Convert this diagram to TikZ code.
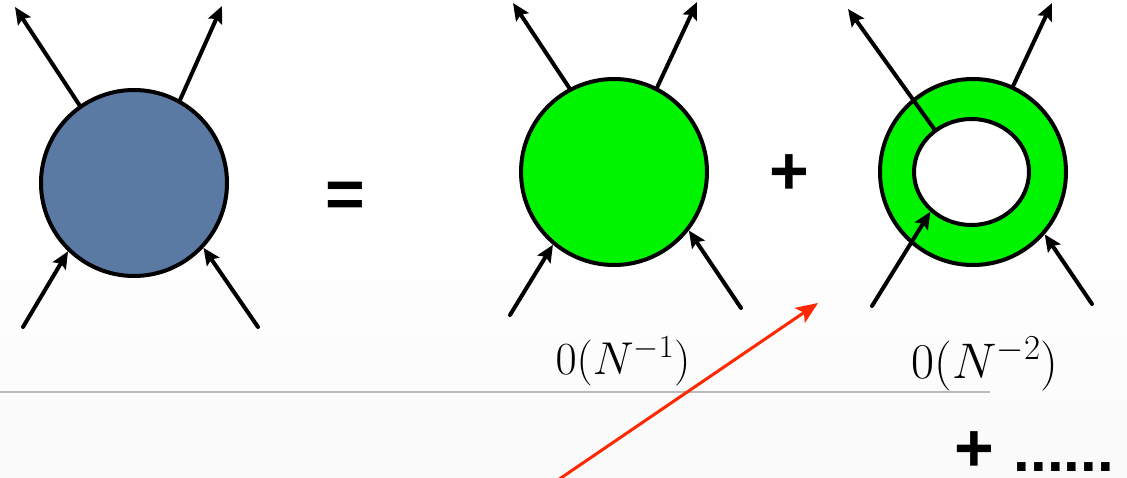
\RequirePackage{fix-cm}
\documentclass[tikz,border=0pt]{standalone}
\usepackage{amsmath}
\usepackage{fontspec}
\setsansfont{Liberation Sans}
\usetikzlibrary{arrows.meta,shapes.geometric}

\definecolor{blobblue}{RGB}{90,122,164}
\definecolor{blobgreen}{RGB}{0,244,0}
\definecolor{rulegray}{RGB}{186,186,186}
\definecolor{hintred}{RGB}{255,40,0}
\definecolor{bggray}{RGB}{250,250,250}

\begin{document}
\begin{tikzpicture}[
    x=1pt, y=-1pt,
    >={Stealth[length=17pt,width=15pt,inset=3pt]},
    line cap=round,
    line join=round,
    leg/.style={->, line width=4pt},
    blob/.style={circle, draw, line width=4pt, minimum size=186pt, inner sep=0pt},
    bigsym/.style={font=\sffamily\bfseries\fontsize{68}{70}\selectfont, inner sep=0pt, anchor=base},
    order/.style={font=\fontsize{46}{52}\selectfont, inner sep=0pt, anchor=base}
]

% -----------------------
% Background
% -----------------------
\fill[white] (0,0) rectangle (1127,478);
\shade[top color=white, bottom color=bggray] (0,200) rectangle (1127,478);
\useasboundingbox (0,0) rectangle (1127,478);

% -----------------------
% Coordinates
% -----------------------
\coordinate (bUL) at (15,7);
\coordinate (bUR) at (222,6);
\coordinate (bLL) at (23,327);
\coordinate (bLR) at (258,327);

\coordinate (gUL) at (513,3);
\coordinate (gUR) at (697,2);
\coordinate (gLL) at (510,315);
\coordinate (gLR) at (741,308);

\coordinate (rUL) at (848,9);
\coordinate (rUR) at (1052,3);
\coordinate (rLL) at (872,306);
\coordinate (rLR) at (1092,304);

\coordinate (ruleL) at (0,392);
\coordinate (ruleR) at (990,392);

\coordinate (hintfrom) at (555,482);
\coordinate (hintto) at (818,303);

% -----------------------
% Full vertex
% -----------------------
\node[blob, fill=blobblue] (full) at (134,183) {};

\draw[leg] (full.125) -- (bUL);
\draw[leg] (full.61) -- (bUR);
\draw[leg] (bLL) -- (full.226);
\draw[leg] (bLR) -- (full.317);

\node[bigsym] (eq) at (345,218) {=};

% -----------------------
% Leading term
% -----------------------
\node[blob, fill=blobgreen] (lead) at (614,172) {};

\draw[leg] (lead.118) -- (gUL);
\draw[leg] (lead.63) -- (gUR);
\draw[leg] (gLL) -- (lead.230);
\draw[leg] (gLR) -- (lead.322);

\node[bigsym] (plus) at (789,195) {+};

% -----------------------
% Ring term
% -----------------------
\node[blob, fill=blobgreen] (ring) at (973,172) {};
\node[ellipse, draw, line width=4pt, fill=white, minimum width=115pt,
      minimum height=106pt, inner sep=0pt] (hole) at (971.5,172) {};

\draw[leg] (hole.131) -- (rUL);
\draw[leg] (ring.65) -- (rUR);
\draw[leg] (rLL) -- (hole.224);
\draw[leg] (rLR) -- (ring.319);

% -----------------------
% Orders
% -----------------------
\node[order] (lone) at (623,374) {$0(N^{-1})$};
\node[order, font=\fontsize{50}{56}\selectfont] (ltwo) at (985,378) {$0(N^{-2})$};

\draw[rulegray, line width=2pt, line cap=butt] (ruleL) -- (ruleR);

\node[bigsym, anchor=base east, text depth=0pt] (more) at (1114,471)
    {+\hspace{20pt}{\fontsize{60}{62}\selectfont......}};

% -----------------------
% Hint arrow
% -----------------------
\draw[hintred, line width=3pt, -{Stealth[length=22pt,width=18pt,inset=5pt]}]
    (hintfrom) -- (hintto);

\end{tikzpicture}
\end{document}
